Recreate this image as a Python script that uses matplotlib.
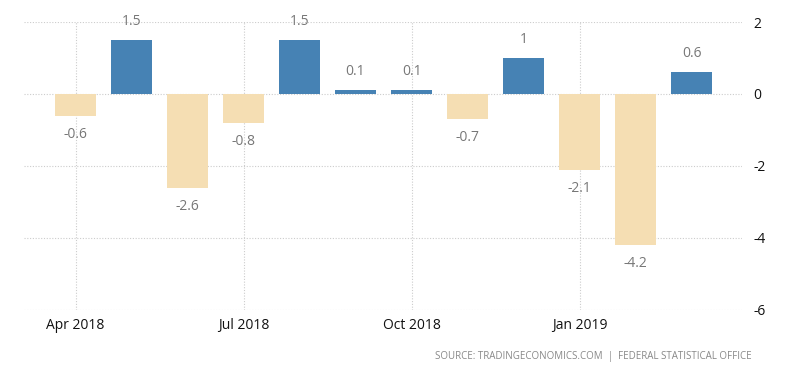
import matplotlib
matplotlib.use("Agg")
import matplotlib.pyplot as plt
import numpy as np

# monthly change, Apr 2018 - Mar 2019
months = ["Apr 2018", "May 2018", "Jun 2018", "Jul 2018", "Aug 2018", "Sep 2018",
          "Oct 2018", "Nov 2018", "Dec 2018", "Jan 2019", "Feb 2019", "Mar 2019"]
values = [-0.6, 1.5, -2.6, -0.8, 1.5, 0.1, 0.1, -0.7, 1.0, -2.1, -4.2, 0.6]
value_labels = ["-0.6", "1.5", "-2.6", "-0.8", "1.5", "0.1", "0.1", "-0.7", "1", "-2.1", "-4.2", "0.6"]
tick_months = ["Apr 2018", "Jul 2018", "Oct 2018", "Jan 2019"]
y_ticks = [2, 0, -2, -4, -6]

plt.rcParams['font.family'] = ['Open Sans', 'DejaVu Sans']

fig = plt.figure(figsize=(8, 3.73), dpi=100)
ax = fig.add_axes([0.03, 0.169, 0.8975, 0.772])

x = np.arange(len(months))
colors = ["#4682B4" if v > 0 else "#F5DEB3" for v in values]
ax.bar(x, values, width=0.73, color=colors, zorder=3)

for xi, v, lab in zip(x, values, value_labels):
    if v > 0:
        ax.annotate(lab, (xi, v), xytext=(0, 8), textcoords="offset points",
                    ha="center", va="bottom", fontsize=10, color="#777777")
    else:
        ax.annotate(lab, (xi, v), xytext=(0, -8), textcoords="offset points",
                    ha="center", va="top", fontsize=10, color="#777777")

ax.set_xlim(-0.92, 11.9)
ax.set_ylim(-6, 2)
ax.set_xticks([months.index(m) for m in tick_months])
ax.set_xticklabels(tick_months, fontsize=10, color="#111111")
ax.set_yticks(y_ticks)
ax.set_yticklabels([str(t) for t in y_ticks], fontsize=10, color="#111111")
ax.yaxis.tick_right()
ax.tick_params(axis="both", length=0)
ax.tick_params(axis="x", pad=6)
ax.tick_params(axis="y", pad=8)

for s in ax.spines.values():
    s.set_visible(False)
ax.grid(True, color="#cccccc", linestyle=(0, (1, 1.5)), linewidth=0.8, zorder=0)

fig.text(0.94, 0.045, "SOURCE: TRADINGECONOMICS.COM  |  FEDERAL STATISTICAL OFFICE",
         ha="right", va="center", fontsize=7, color="#888888")

fig.savefig("out.png", dpi=100)
